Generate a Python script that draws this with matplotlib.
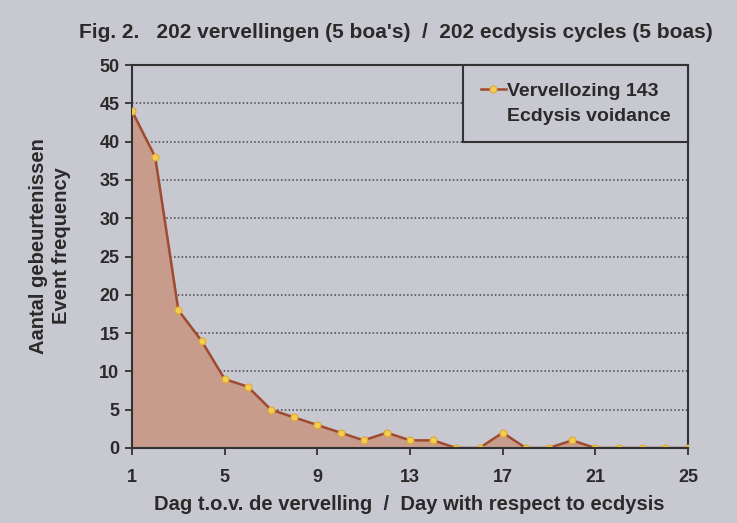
import matplotlib
matplotlib.use("Agg")
import matplotlib.pyplot as plt
from matplotlib.lines import Line2D

days = list(range(1, 26))
events = [44, 38, 18, 14, 9, 8, 5, 4, 3, 2, 1, 2, 1, 1, 0, 0, 2, 0, 0, 1, 0, 0, 0, 0, 0]
xticks = [1, 5, 9, 13, 17, 21, 25]
yticks = list(range(0, 51, 5))

title = "Fig. 2.   202 vervellingen (5 boa's)  /  202 ecdysis cycles (5 boas)"
xlabel = "Dag t.o.v. de vervelling  /  Day with respect to ecdysis"
ylabel = "Aantal gebeurtenissen\nEvent frequency"
legend_labels = ["Vervellozing 143", "Ecdysis voidance"]

FONT = ["Liberation Sans", "DejaVu Sans"]
plt.rcParams['font.family'] = FONT
plt.rcParams['font.weight'] = 'bold'

bg = "#c8c8d0"
text_c = "#2a2a2a"

fig = plt.figure(figsize=(7.37, 5.23), dpi=100, facecolor=bg)
ax = fig.add_axes([132/737, 1-448/523, (688-132)/737, (448-65)/523])
ax.set_facecolor(bg)

ax.fill_between(days, events, 0, color="#c79c8c", zorder=2)
line, = ax.plot(days, events, color="#a04a30", lw=1.8, marker="o", ms=5,
                mfc="#f2cf50", mec="#e0a830", mew=0.8, zorder=3)

ax.set_xlim(1, 25)
ax.set_ylim(0, 50)
ax.set_xticks(xticks)
ax.set_yticks(yticks)
ax.tick_params(axis='both', direction='out', length=5, width=1.3, colors="#333333",
               labelsize=13, labelcolor=text_c)
ax.tick_params(axis='x', pad=10)
ax.tick_params(axis='y', pad=4)
for lbl in ax.get_xticklabels() + ax.get_yticklabels():
    lbl.set_fontweight('bold')

for y in yticks[1:-1]:
    ax.axhline(y, color="#444450", lw=1.1, ls=(0, (1, 1.5)), zorder=1)

for s in ax.spines.values():
    s.set_color("#333333")
    s.set_linewidth(1.5)
ax.spines['bottom'].set_zorder(4)

fig.text(396/737, 1-32/523, title, ha='center', va='center', fontsize=15,
         fontweight='bold', color=text_c)
fig.text(409/737, 1-505/523, xlabel, ha='center', va='center', fontsize=14.5,
         fontweight='bold', color=text_c)
fig.text(50/737, 1-246/523, ylabel, ha='center', va='center', fontsize=14.5,
         fontweight='bold', color=text_c, rotation=90, linespacing=1.3)

blank = Line2D([], [], color='none')
leg = ax.legend([line, blank], legend_labels, loc='upper right', borderaxespad=0,
                frameon=True, fancybox=False, facecolor=bg, edgecolor="#333333",
                prop={'size': 14, 'weight': 'bold'}, handlelength=1.3,
                handletextpad=0.05, labelspacing=0.35, borderpad=0.9)
leg.get_frame().set_linewidth(1.5)
leg.get_frame().set_alpha(1)
for t in leg.get_texts():
    t.set_color(text_c)

fig.savefig("out.png", dpi=100, facecolor=bg)
